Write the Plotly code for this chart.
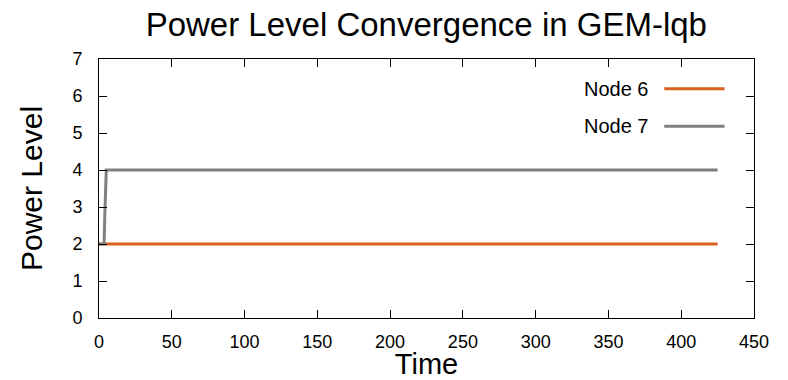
import plotly.graph_objects as go

# Power level traces over time
node6_time = [0, 425]
node6_level = [2, 2]
node7_time = [0, 3.5, 4, 4.5, 5, 425]
node7_level = [2, 2, 2.8, 3.5, 4, 4]

series_names = ["Node 6", "Node 7"]
series_colors = ["#d95f1e", "#808080"]

x_ticks = list(range(0, 451, 50))
y_ticks = list(range(0, 8))

FONT = "Liberation Sans, Arial, Helvetica, sans-serif"

fig = go.Figure()
fig.add_trace(go.Scatter(x=node6_time, y=node6_level, mode="lines", name=series_names[0],
                         line=dict(color=series_colors[0], width=3), showlegend=False))
fig.add_trace(go.Scatter(x=node7_time, y=node7_level, mode="lines", name=series_names[1],
                         line=dict(color=series_colors[1], width=3), showlegend=False))

# Legend in gnuplot style: label on the left, line sample on the right
legend_y = [0.885, 0.74]
for name, color, ly in zip(series_names, series_colors, legend_y):
    fig.add_annotation(xref="paper", yref="paper", x=0.843, y=ly, text=name, showarrow=False,
                       xanchor="right", yanchor="middle", font=dict(family=FONT, size=20, color="black"))
    fig.add_shape(type="line", xref="paper", yref="paper", x0=0.863, x1=0.955, y0=ly, y1=ly,
                  line=dict(color=color, width=3))

axis_common = dict(showgrid=False, zeroline=False, showline=True, linecolor="black", linewidth=1,
                   mirror="ticks", ticks="inside", ticklen=8, tickcolor="black", automargin=False,
                   tickfont=dict(family=FONT, size=18, color="black"))

fig.update_layout(
    width=788, height=380,
    margin=dict(l=99, r=34, t=59, b=62),
    paper_bgcolor="white", plot_bgcolor="white",
    title=dict(text="Power Level Convergence in GEM-lqb", x=0.541, xanchor="center", y=0.966, yanchor="top",
               font=dict(family=FONT, size=33, color="black")),
    xaxis=dict(range=[0, 450], tickvals=x_ticks, ticklabelstandoff=7,
               title=dict(text="Time", font=dict(family=FONT, size=29, color="black"), standoff=0),
               **axis_common),
    yaxis=dict(range=[0, 7], tickvals=y_ticks, ticklabelstandoff=12,
               title=dict(text="Power Level", font=dict(family=FONT, size=30, color="black"), standoff=20),
               **axis_common),
)

fig.write_html("out.html")
